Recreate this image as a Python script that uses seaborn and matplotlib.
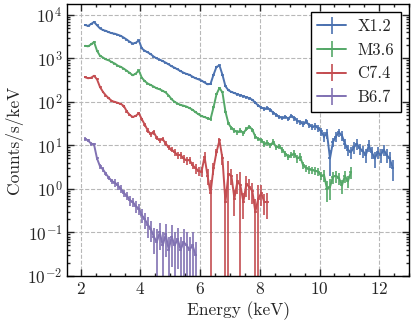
import numpy as np
import seaborn as sns
import matplotlib.pyplot as plt

# bin centres (keV), shared by all spectra; each spectrum uses the first len(counts) bins
energy = [2.15, 2.25, 2.35, 2.45, 2.55, 2.65, 2.75, 2.85, 2.95, 3.05,
          3.15, 3.25, 3.35, 3.45, 3.55, 3.65, 3.75, 3.85, 3.95, 4.05,
          4.15, 4.25, 4.35, 4.45, 4.55, 4.65, 4.75, 4.85, 4.95, 5.05,
          5.15, 5.25, 5.35, 5.45, 5.55, 5.65, 5.75, 5.85, 5.95, 6.05,
          6.15, 6.25, 6.35, 6.45, 6.55, 6.65, 6.75, 6.85, 6.95, 7.05,
          7.15, 7.25, 7.35, 7.45, 7.55, 7.65, 7.75, 7.85, 7.95, 8.05,
          8.15, 8.25, 8.35, 8.45, 8.55, 8.65, 8.75, 8.85, 8.95, 9.05,
          9.15, 9.25, 9.35, 9.45, 9.55, 9.65, 9.75, 9.85, 9.95, 10.05,
          10.15, 10.25, 10.35, 10.45, 10.55, 10.65, 10.75, 10.85, 10.95, 11.05,
          11.15, 11.25, 11.35, 11.45, 11.55, 11.65, 11.75, 11.85, 11.95, 12.05,
          12.15, 12.25, 12.35, 12.45]
half_bin = 0.05

labels = ["X1.2", "M3.6", "C7.4", "B6.7"]

x12_counts = [5900, 5600, 6200, 6900, 5800, 4900, 4500, 4300, 4000, 3800,
              3700, 3500, 3300, 3000, 2700, 2400, 2200, 2300, 2600, 1700,
              1500, 1380, 1250, 1100, 1000, 940, 870, 800, 730, 660,
              610, 560, 510, 470, 440, 420, 380, 350, 330, 310,
              280, 255, 260, 420, 640, 690, 420, 230, 185, 170,
              160, 150, 142, 135, 128, 122, 112, 96, 82, 74,
              70, 72, 65, 57, 50, 45, 43, 46, 41, 48,
              42, 37, 34, 31, 36, 29, 27, 28, 25, 21,
              16, 19, 5, 12, 16, 20, 17, 11, 8, 7,
              9, 11, 8.5, 7.5, 6, 10, 7, 5, 7, 6,
              8, 6, 5, 3]
x12_relerr = [0.03, 0.03, 0.03, 0.03, 0.03, 0.03, 0.03, 0.03, 0.03, 0.03,
              0.03, 0.03, 0.03, 0.03, 0.03, 0.03, 0.03, 0.03, 0.03, 0.03,
              0.03, 0.03, 0.03, 0.03, 0.03, 0.03, 0.03, 0.03, 0.03, 0.03,
              0.04, 0.04, 0.04, 0.04, 0.04, 0.04, 0.04, 0.04, 0.04, 0.04,
              0.05, 0.05, 0.05, 0.05, 0.04, 0.04, 0.05, 0.05, 0.05, 0.05,
              0.07, 0.07, 0.07, 0.07, 0.07, 0.07, 0.07, 0.07, 0.08, 0.08,
              0.1, 0.1, 0.1, 0.1, 0.1, 0.1, 0.1, 0.1, 0.12, 0.12,
              0.15, 0.15, 0.15, 0.15, 0.15, 0.15, 0.18, 0.18, 0.18, 0.2,
              0.25, 0.25, 0.6, 0.25, 0.25, 0.2, 0.25, 0.25, 0.3, 0.3,
              0.3, 0.3, 0.3, 0.3, 0.35, 0.3, 0.3, 0.4, 0.3, 0.35,
              0.3, 0.35, 0.4, 0.5]

m36_counts = [1950, 1900, 2100, 2400, 1500, 1150, 1050, 950, 900, 820,
              760, 680, 640, 580, 520, 460, 410, 450, 530, 360,
              300, 265, 245, 225, 205, 195, 180, 165, 140, 115,
              100, 92, 85, 82, 78, 72, 66, 58, 52, 47,
              45, 42, 40, 75, 150, 210, 165, 60, 32, 25,
              22, 20, 22, 19, 24, 27, 23, 16, 14, 13,
              11, 11.5, 10, 12, 9, 9.5, 8, 6.5, 5.5, 6,
              6.5, 5, 5.5, 3.5, 3, 2.8, 2.7, 2.6, 2.5, 2.0,
              2.1, 1.0, 1.1, 1.9, 2.0, 1.8, 1.2, 2.0, 1.5, 2.4]
m36_relerr = [0.03, 0.03, 0.03, 0.03, 0.03, 0.03, 0.03, 0.03, 0.03, 0.03,
              0.03, 0.03, 0.03, 0.03, 0.03, 0.03, 0.03, 0.03, 0.03, 0.03,
              0.04, 0.04, 0.04, 0.04, 0.04, 0.04, 0.04, 0.04, 0.04, 0.04,
              0.05, 0.05, 0.05, 0.05, 0.05, 0.05, 0.05, 0.05, 0.05, 0.05,
              0.07, 0.07, 0.07, 0.06, 0.05, 0.05, 0.05, 0.07, 0.08, 0.1,
              0.12, 0.12, 0.12, 0.12, 0.12, 0.12, 0.12, 0.12, 0.12, 0.12,
              0.15, 0.15, 0.15, 0.15, 0.15, 0.15, 0.15, 0.15, 0.15, 0.15,
              0.2, 0.2, 0.2, 0.2, 0.2, 0.2, 0.2, 0.2, 0.2, 0.2,
              0.3, 0.5, 0.5, 0.3, 0.3, 0.3, 0.35, 0.3, 0.3, 0.3]

c74_counts = [370, 350, 360, 400, 330, 220, 170, 140, 120, 105,
              100, 95, 90, 80, 60, 50, 45, 48, 55, 40,
              30, 22, 18, 20, 15, 13, 14, 11, 9, 8,
              7, 6, 6, 5, 4.5, 4.6, 3.5, 3, 2.6, 2.5,
              5.5, 2, 0.8, 3, 7, 13, 5, 0.5, 2.2, 2.0,
              0.6, 1.5, 1.2, 0.5, 1.3, 1.1, 0.9, 0.3, 0.6, 0.8,
              0.5, 0.5]
c74_relerr = [0.05, 0.05, 0.05, 0.05, 0.05, 0.05, 0.05, 0.05, 0.05, 0.05,
              0.07, 0.07, 0.07, 0.07, 0.07, 0.07, 0.07, 0.07, 0.07, 0.07,
              0.12, 0.12, 0.12, 0.12, 0.12, 0.12, 0.12, 0.12, 0.12, 0.12,
              0.2, 0.2, 0.2, 0.2, 0.2, 0.2, 0.2, 0.25, 0.25, 0.25,
              0.3, 0.4, 1.0, 0.3, 0.2, 0.15, 0.3, 1.0, 1.0, 0.4,
              0.6, 0.5, 1.0, 0.6, 0.5, 0.5, 0.5, 1.0, 1.0, 0.5,
              0.5, 0.6]

b67_counts = [14, 13, 11, 10.5, 5, 3.3, 2.8, 2.2, 1.8, 1.5,
              1.4, 1.2, 1.0, 0.8, 0.7, 0.55, 0.5, 0.4, 0.35, 0.25,
              0.2, 0.15, 0.12, 0.08, 0.06, 0.1, 0.05, 0.09, 0.04, 0.08,
              0.05, 0.07, 0.04, 0.06, 0.05, 0.04, 0.05, 0.03]
b67_relerr = [0.1, 0.1, 0.1, 0.1, 0.1, 0.12, 0.12, 0.12, 0.12, 0.15,
              0.2, 0.2, 0.2, 0.2, 0.2, 0.25, 0.25, 0.3, 0.3, 0.35,
              0.4, 0.5, 0.5, 0.6, 1.0, 0.6, 1.0, 0.7, 1.0, 0.8,
              1.0, 0.8, 1.0, 1.0, 1.0, 1.0, 1.0, 1.0]

series = [(x12_counts, x12_relerr), (m36_counts, m36_relerr),
          (c74_counts, c74_relerr), (b67_counts, b67_relerr)]

sns.set_style("ticks")
plt.rcParams["font.family"] = ["cmr10", "DejaVu Serif"]
plt.rcParams["mathtext.fontset"] = "cm"
plt.rcParams["axes.formatter.use_mathtext"] = True
plt.rcParams["font.size"] = 12.5

colors = sns.color_palette("deep")
colors = [colors[0], colors[2], colors[3], colors[4]]

fig = plt.figure(figsize=(4.12, 3.23), dpi=100)
ax = fig.add_axes([0.163, 0.146, 0.830, 0.842])

for (counts, relerr), lab, col in zip(series, labels, colors):
    y = np.array(counts, dtype=float)
    x = np.array(energy[:len(y)])
    yerr = y * np.array(relerr)
    ax.errorbar(x, y, xerr=half_bin, yerr=yerr, fmt="-", color=col,
                lw=1.4, elinewidth=1.2, label=lab)

ax.set_yscale("log")
ax.set_xlim(1.55, 13.0)
ax.set_ylim(1e-2, 1.8e4)
ax.set_xticks([2, 4, 6, 8, 10, 12])
ax.xaxis.set_minor_locator(plt.MultipleLocator(0.5))
ax.grid(True, which="major", ls="--", color="0.72", lw=0.8)
ax.tick_params(which="both", direction="in", top=True, right=True,
               labelsize=12.5, width=1.0)
ax.tick_params(which="major", length=5)
ax.tick_params(which="minor", length=2.5)
for s in ax.spines.values():
    s.set_linewidth(1.0)
    s.set_color("black")

ax.set_xlabel("Energy (keV)", fontsize=12.5, labelpad=3)
ax.set_ylabel("Counts/s/keV", fontsize=12.5, labelpad=3)

leg = ax.legend(loc="upper right", fancybox=False, framealpha=1.0,
                edgecolor="black", fontsize=12, handlelength=1.7,
                borderaxespad=0.5, labelspacing=0.5, handletextpad=0.7)
leg.get_frame().set_linewidth(1.0)

fig.savefig("out.png", dpi=100)
